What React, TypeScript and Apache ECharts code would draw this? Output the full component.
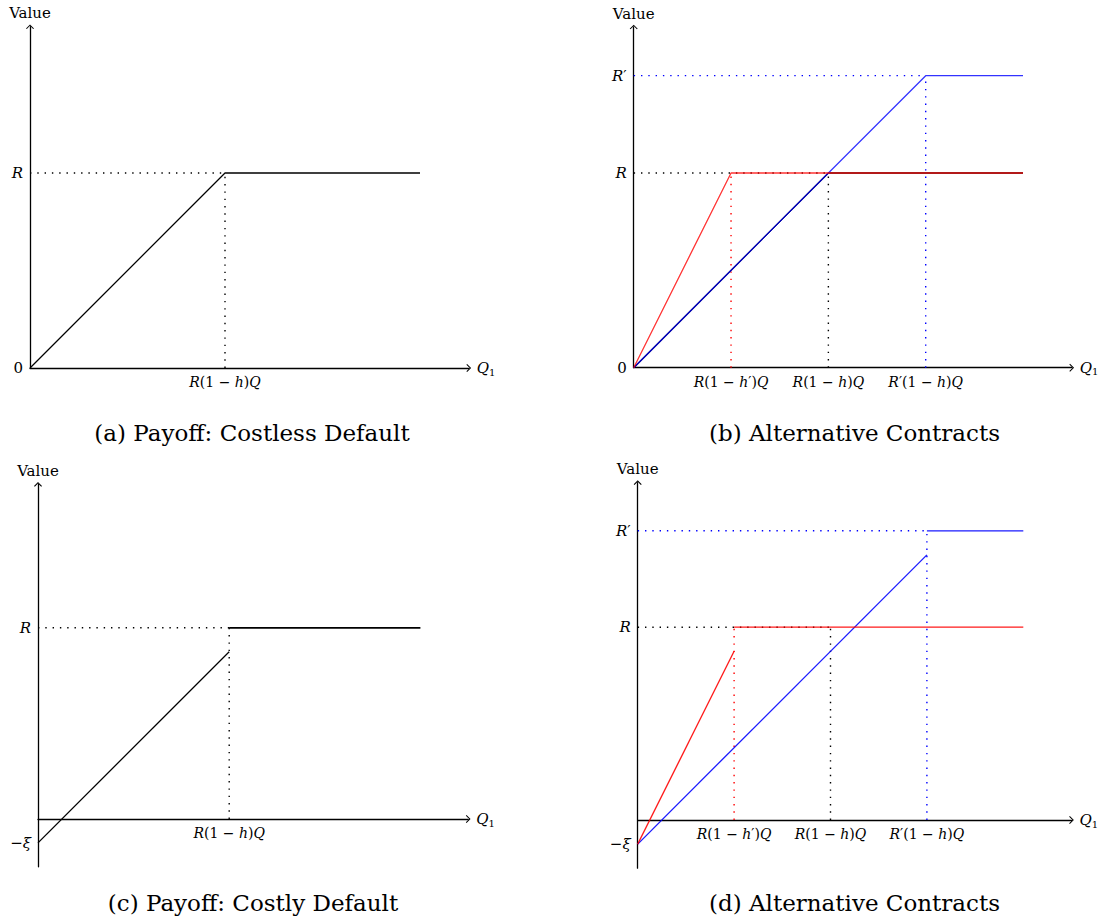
import React, { useEffect, useRef } from "react";
import * as echarts from "echarts";

// ---------- data ----------
const X_MAX = 9;
const Y_MAX = 7;
const Y_MIN_COSTLESS = 0;
const Y_MIN_COSTLY = -1;

// (a) Payoff: Costless Default
const payoffA = [[0, 0], [4, 4], [8, 4]];
const guideA_H = [[0, 4], [4, 4]];
const guideA_V = [[4, 0], [4, 4]];
const xTickValsA = [4];
const xTickLabelsA = ["R(1 − h)Q"];
const yTickValsA = [0, 4];
const yTickLabelsA = ["0", "R"];

// (b) Alternative Contracts (costless)
const payoffB = [[0, 0], [4, 4], [8, 4]];
const redB = [[0, 0], [2, 4], [8, 4]];
const blueB = [[0, 0], [6, 6], [8, 6]];
const guideB_blackH = [[0, 4], [4, 4]];
const guideB_blueH = [[0, 6], [6, 6]];
const guideB_redV = [[2, 0], [2, 4]];
const guideB_blackV = [[4, 0], [4, 4]];
const guideB_blueV = [[6, 0], [6, 6]];
const xTickValsB = [2, 4, 6];
const xTickLabelsB = ["R(1 − h′)Q", "R(1 − h)Q", "R′(1 − h)Q"];
const yTickValsB = [0, 4, 6];
const yTickLabelsB = ["0", "R", "R′"];

// (c) Payoff: Costly Default
const defaultC = [[0, -0.5], [4, 3.5]];
const repayC = [[4, 4], [8, 4]];
const guideC_H = [[0, 4], [4, 4]];
const guideC_V = [[4, 0], [4, 4]];
const xTickValsC = [4];
const xTickLabelsC = ["R(1 − h)Q"];
const yTickValsC = [-0.5, 4];
const yTickLabelsC = ["−ξ", "R"];

// (d) Alternative Contracts (costly)
const redDefaultD = [[0, -0.5], [2, 3.5]];
const redRepayD = [[2, 4], [8, 4]];
const blueDefaultD = [[0, -0.5], [6, 5.5]];
const blueRepayD = [[6, 6], [8, 6]];
const guideD_blackH = [[0, 4], [4, 4]];
const guideD_blueH = [[0, 6], [6, 6]];
const guideD_redV = [[2, 0], [2, 4]];
const guideD_blackV = [[4, 0], [4, 4]];
const guideD_blueV = [[6, 0], [6, 6]];
const xTickValsD = [2, 4, 6];
const xTickLabelsD = ["R(1 − h′)Q", "R(1 − h)Q", "R′(1 − h)Q"];
const yTickValsD = [-0.5, 4, 6];
const yTickLabelsD = ["−ξ", "R", "R′"];

const captions = [
  "(a) Payoff: Costless Default",
  "(b) Alternative Contracts",
  "(c) Payoff: Costly Default",
  "(d) Alternative Contracts",
];

// ---------- styling ----------
const SERIF = '"DejaVu Serif", "Liberation Serif", serif';
const BLACK = "#000000";
const RED = "#ff0000";
const BLUE = "#0000ff";
const ARROW = "path://M4,0 L8,4 L7.2,4.7 L4,1.4 L0.8,4.7 L0,4 Z";

const GRIDS = [
  { left: 30, top: 26.75, width: 438.75, height: 341.25 },
  { left: 633.7, top: 27, width: 438, height: 340.7 },
  { left: 38, top: 484.4, width: 430.2, height: 382.4 },
  { left: 637.7, top: 482.6, width: 433.8, height: 385.6 },
];

const rich = {
  i: { fontFamily: SERIF, fontStyle: "italic", fontSize: 14, color: BLACK },
  n: { fontFamily: SERIF, fontSize: 14, color: BLACK },
  I: { fontFamily: SERIF, fontStyle: "italic", fontSize: 15, color: BLACK },
  N: { fontFamily: SERIF, fontSize: 15, color: BLACK },
  sub: { fontFamily: SERIF, fontSize: 10, color: BLACK, verticalAlign: "bottom", padding: [8, 0, 0, 0] },
};

function math(s: string, big = false): string {
  let out = "";
  for (const ch of s) {
    const isLetter = /[A-Za-z\u03b1-\u03c9]/.test(ch);
    const key = isLetter ? (big ? "I" : "i") : big ? "N" : "n";
    out += `{${key}|${ch}}`;
  }
  return out;
}

function lookup(vals: number[], labels: string[], big: boolean) {
  return (v: number) => {
    const k = vals.findIndex((t) => Math.abs(t - v) < 1e-6);
    return k < 0 ? "" : math(labels[k], big);
  };
}

function xAxisCfg(gi: number, yMin: number, vals: number[], labels: string[]) {
  const g = GRIDS[gi];
  // lift the axis up to the value 0 of the y scale
  const lift = (g.height * (0 - yMin)) / (Y_MAX - yMin);
  return {
    type: "value",
    gridIndex: gi,
    min: 0,
    max: X_MAX,
    interval: 1,
    offset: -lift,
    name: "{I|Q}{sub|1}",
    nameLocation: "end",
    nameGap: 8,
    nameTextStyle: { rich, fontSize: 15, align: "left", verticalAlign: "middle" },
    axisLine: {
      onZero: false,
      symbol: ["none", ARROW],
      symbolSize: [8, 5],
      lineStyle: { color: BLACK, width: 1.3 },
    },
    axisTick: { show: false },
    splitLine: { show: false },
    axisLabel: { formatter: lookup(vals, labels, false), rich, margin: 7, showMinLabel: true, showMaxLabel: true },
  };
}

function yAxisCfg(gi: number, min: number, vals: number[], labels: string[]) {
  return {
    type: "value",
    gridIndex: gi,
    min,
    max: Y_MAX,
    interval: 0.5,
    name: "Value",
    nameLocation: "end",
    nameGap: 6,
    nameTextStyle: { fontFamily: SERIF, fontSize: 15, color: BLACK },
    axisLine: {
      onZero: false,
      symbol: ["none", ARROW],
      symbolSize: [8, 5],
      lineStyle: { color: BLACK, width: 1.3 },
    },
    axisTick: { show: false },
    splitLine: { show: false },
    axisLabel: { formatter: lookup(vals, labels, true), rich, margin: 7, showMinLabel: true, showMaxLabel: true },
  };
}

function seg(gi: number, data: number[][], color: string, dotted: boolean, opacity = 1, width = 1.3) {
  return {
    type: "line",
    xAxisIndex: gi,
    yAxisIndex: gi,
    data,
    symbol: "none",
    showSymbol: false,
    silent: true,
    animation: false,
    lineStyle: {
      color,
      width: dotted ? 1.4 : width,
      type: dotted ? [1.4, 5.9] : "solid",
      cap: "butt",
      opacity,
    },
  };
}

const App: React.FC = () => {
  const ref = useRef<HTMLDivElement>(null);

  useEffect(() => {
    if (!ref.current) return;
    const chart = echarts.init(ref.current, undefined, { renderer: "svg" });

    const option: any = {
      animation: false,
      backgroundColor: "#ffffff",
      grid: GRIDS,
      xAxis: [
        xAxisCfg(0, Y_MIN_COSTLESS, xTickValsA, xTickLabelsA),
        xAxisCfg(1, Y_MIN_COSTLESS, xTickValsB, xTickLabelsB),
        xAxisCfg(2, Y_MIN_COSTLY, xTickValsC, xTickLabelsC),
        xAxisCfg(3, Y_MIN_COSTLY, xTickValsD, xTickLabelsD),
      ],
      yAxis: [
        yAxisCfg(0, Y_MIN_COSTLESS, yTickValsA, yTickLabelsA),
        yAxisCfg(1, Y_MIN_COSTLESS, yTickValsB, yTickLabelsB),
        yAxisCfg(2, Y_MIN_COSTLY, yTickValsC, yTickLabelsC),
        yAxisCfg(3, Y_MIN_COSTLY, yTickValsD, yTickLabelsD),
      ],
      series: [
        // (a)
        seg(0, guideA_H, BLACK, true),
        seg(0, guideA_V, BLACK, true),
        seg(0, payoffA, BLACK, false),
        // (b)
        seg(1, guideB_blackH, BLACK, true),
        seg(1, guideB_blueH, BLUE, true),
        seg(1, guideB_redV, RED, true),
        seg(1, guideB_blackV, BLACK, true),
        seg(1, guideB_blueV, BLUE, true),
        seg(1, payoffB, BLACK, false),
        seg(1, blueB, BLUE, false, 0.8),
        seg(1, redB, RED, false, 0.8),
        // (c)
        seg(2, guideC_H, BLACK, true),
        seg(2, guideC_V, BLACK, true),
        seg(2, defaultC, BLACK, false),
        seg(2, repayC, BLACK, false, 1, 1.7),
        // (d)
        seg(3, guideD_blackH, BLACK, true),
        seg(3, guideD_blueH, BLUE, true),
        seg(3, guideD_redV, RED, true),
        seg(3, guideD_blackV, BLACK, true),
        seg(3, guideD_blueV, BLUE, true),
        seg(3, blueDefaultD, BLUE, false, 0.9),
        seg(3, blueRepayD, BLUE, false, 0.9),
        seg(3, redDefaultD, RED, false, 0.9),
        seg(3, redRepayD, RED, false, 0.9),
      ],
      graphic: [
        { x: 252, y: 433 },
        { x: 854.5, y: 433 },
        { x: 253, y: 903 },
        { x: 854.5, y: 903 },
      ].map((p, k) => ({
        type: "text",
        x: p.x,
        y: p.y,
        silent: true,
        style: {
          text: captions[k],
          fontFamily: SERIF,
          fontSize: 23,
          fill: BLACK,
          textAlign: "center",
          textVerticalAlign: "middle",
        },
      })),
    };

    chart.setOption(option);
    return () => chart.dispose();
  }, []);

  return (
    <div
      ref={ref}
      style={{ position: "absolute", left: 0, top: 0, width: 1104, height: 919, background: "#fff" }}
    />
  );
};

export default App;
